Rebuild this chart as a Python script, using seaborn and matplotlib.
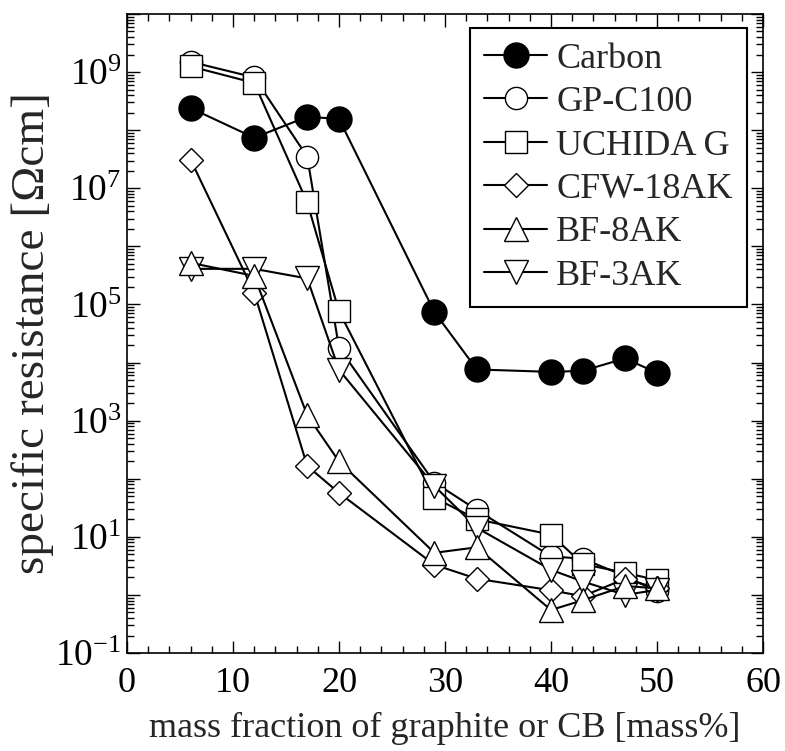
import matplotlib
matplotlib.use("Agg")
import matplotlib.pyplot as plt
import matplotlib.ticker as mticker
import numpy as np
import pandas as pd
import seaborn as sns

# mass fraction [mass%] of each filler
mass_carbon = [6, 12, 17, 20, 29, 33, 40, 43, 47, 50]
mass_other = [6, 12, 17, 20, 29, 33, 40, 43, 47, 50]

# specific resistance [Ohm cm]
carbon = [2.4e8, 7.4e7, 1.7e8, 1.56e8, 7.4e4, 7.6e3, 6.9e3, 7.2e3, 1.18e4, 6.6e3]
gp_c100 = [1.5e9, 8.1e8, 3.5e7, 1.8e4, 86, 29, 4.6, 4.2, 2.1, 1.15]
uchida_g = [1.25e9, 6.5e8, 5.7e6, 7.6e4, 47, 20, 10.9, 3.4, 2.4, 1.8]
cfw_18ak = [3.1e7, 1.6e5, 166, 57, 3.3, 1.9, 1.2, 0.95, 1.9, 1.3]
bf_8ak = [5.2e5, 3.1e5, 1240, 198, 5.3, 6.6, 0.55, 0.81, 1.42, 1.3]
bf_3ak = [4.1e5, 4.1e5, 2.8e5, 7.5e3, 75, 14.3, 2.7, 1.7, 1.0, 1.22]

series_names = ["Carbon", "GP-C100", "UCHIDA G", "CFW-18AK", "BF-8AK", "BF-3AK"]
series_x = [mass_carbon, mass_other, mass_other, mass_other, mass_other, mass_other]
series_y = [carbon, gp_c100, uchida_g, cfw_18ak, bf_8ak, bf_3ak]

df = pd.concat(
    [pd.DataFrame({"mass": x, "rho": y, "sample": n})
     for n, x, y in zip(series_names, series_x, series_y)],
    ignore_index=True,
)

sns.set_theme(style="ticks")
plt.rcParams["font.family"] = ["Liberation Serif", "DejaVu Serif"]
plt.rcParams["mathtext.fontset"] = "custom"
plt.rcParams["mathtext.rm"] = "Liberation Serif"
plt.rcParams["mathtext.it"] = "Liberation Serif:italic"
plt.rcParams["axes.unicode_minus"] = False

# marker, face colour, size (pt), z-order for each sample
styles = {
    "Carbon":   ("o", "black", 18, 3),
    "GP-C100":  ("o", "white", 16, 4),
    "UCHIDA G": ("s", "white", 15.5, 5),
    "CFW-18AK": ("D", "white", 12, 6),
    "BF-8AK":   ("^", "white", 17, 8),
    "BF-3AK":   ("v", "white", 17, 7),
}

fig = plt.figure(figsize=(7.85, 7.51), dpi=100)
ax = fig.add_axes([0.1618, 0.1305, 0.8102, 0.8509])

for name in series_names:
    m, fc, ms, z = styles[name]
    sub = df[df["sample"] == name]
    sns.lineplot(
        data=sub, x="mass", y="rho", ax=ax, color="black", linewidth=1.5,
        marker=m, markersize=ms, markerfacecolor=fc, markeredgecolor="black",
        markeredgewidth=1.0, label=name, zorder=z, estimator=None, sort=False,
    )

ax.set_yscale("log")
ax.set_xlim(0, 60)
ax.set_ylim(1e-1, 1e10)

ax.xaxis.set_major_locator(mticker.MultipleLocator(10))
ax.xaxis.set_minor_locator(mticker.MultipleLocator(2))
ax.yaxis.set_major_locator(mticker.LogLocator(base=10, numticks=20))
ax.yaxis.set_minor_locator(mticker.LogLocator(base=10, subs=np.arange(2, 10), numticks=20))


def odd_decades(v, pos):
    e = int(round(np.log10(v)))
    return r"$\mathregular{10^{%d}}$" % e if e % 2 != 0 else ""


ax.yaxis.set_major_formatter(mticker.FuncFormatter(odd_decades))
ax.yaxis.set_minor_formatter(mticker.NullFormatter())

ax.tick_params(which="both", direction="in", top=True, right=True,
               colors="black", width=1.0)
ax.tick_params(which="major", length=9, labelsize=26)
ax.tick_params(axis="y", which="major", labelsize=27, pad=4)
ax.tick_params(axis="x", which="major", pad=10)
ax.tick_params(which="minor", length=5)
for s in ax.spines.values():
    s.set_color("black")
    s.set_linewidth(1.2)

ax.set_xlabel("mass fraction of graphite or CB [mass%]", fontsize=26, labelpad=9)
ax.set_ylabel("specific resistance [\u03a9cm]", fontsize=34, labelpad=1)

leg = ax.legend(loc="upper right", fontsize=26, frameon=True, fancybox=False,
                edgecolor="black", framealpha=1, handlelength=1.75,
                handletextpad=0.25, borderpad=0.4, labelspacing=0.28,
                bbox_to_anchor=(0.975, 0.978), borderaxespad=0.0)
leg.get_frame().set_linewidth(1.5)

fig.savefig("out.png", dpi=100)
